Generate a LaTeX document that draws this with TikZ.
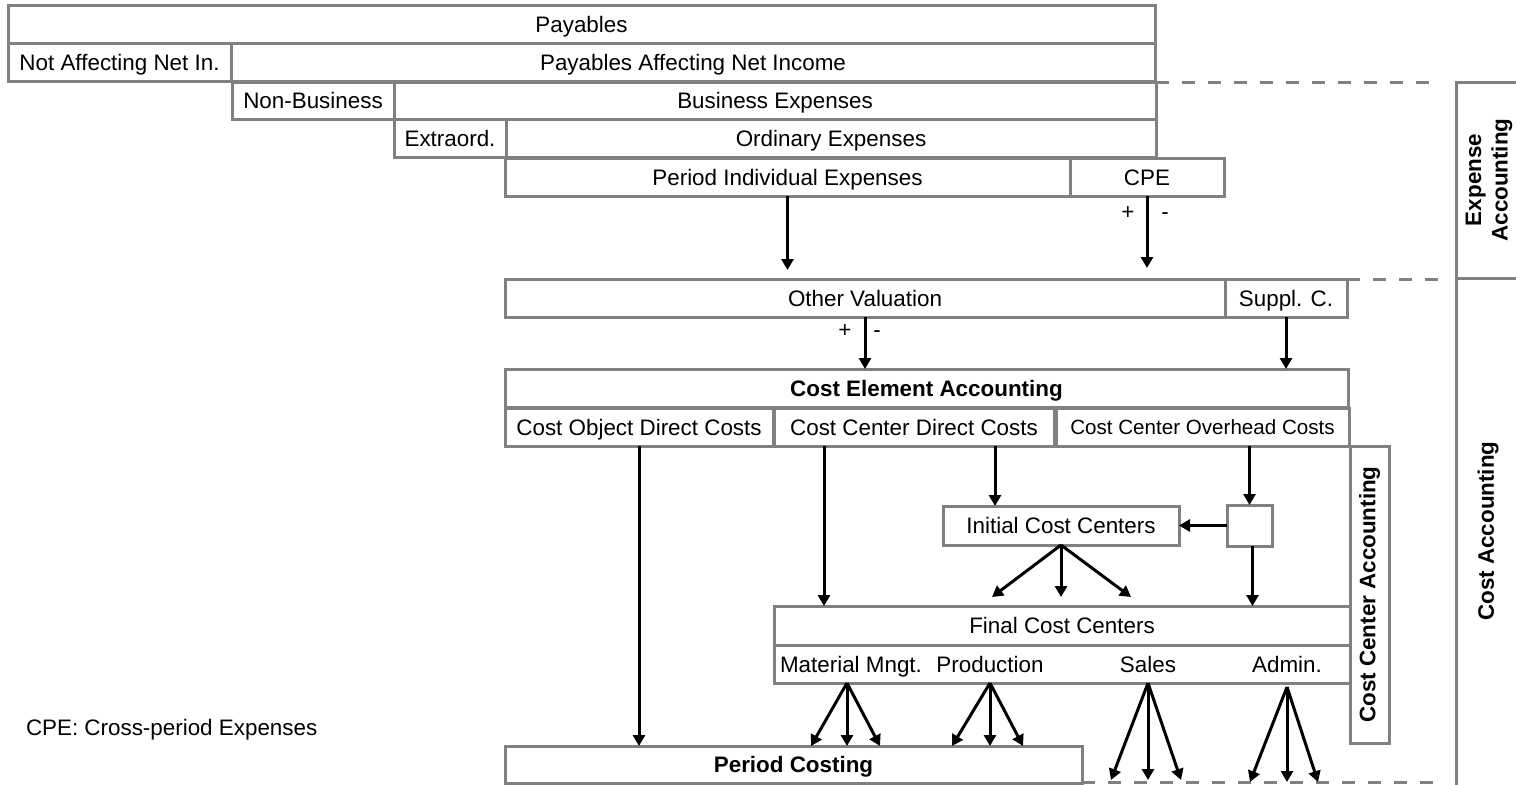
\documentclass[tikz,border=0pt]{standalone}
\usepackage{fontspec}
\setmainfont{Liberation Sans}
\usetikzlibrary{arrows.meta,calc}
\definecolor{boxgray}{HTML}{808080}
\tikzset{
  fnt/.style={font=\fontsize{11.2}{12.5}\selectfont, inner sep=0pt, outer sep=0pt},
  txt/.style={fnt, text height=8.2pt, text depth=0pt},
  box/.style={txt, draw=boxgray, line width=1.5pt, anchor=north west},
  bold/.style={font=\fontsize{11.2}{12.5}\selectfont\bfseries},
  vlabel/.style={fnt, bold, rotate=90, align=center},
  arr/.style={draw=black, line width=1.5pt, -{Triangle[length=5.5pt,width=6pt]}},
  dline/.style={draw=boxgray, line width=1.5pt, dash pattern=on 6.5pt off 6.5pt}
}
% box from (x1,y1) to (x2,y2), coordinates in pixels
\newcommand{\mkbox}[7][]{%
  \node[box,#1,minimum width={(#5-#3)*0.5pt},minimum height={(#6-#4)*0.5pt}] (#2) at (#3,#4) {#7};}
\begin{document}
\begin{tikzpicture}[x=0.5pt,y=-0.5pt]
\path[use as bounding box, clip] (0,0) rectangle (1516,784);

% expense hierarchy
\mkbox{pay}{8}{5}{1155}{43}{Payables}
\mkbox{nani}{8}{43}{231}{81}{Not Affecting Net In.}
\mkbox{pani}{231}{43}{1155}{81}{Payables Affecting Net Income}
\mkbox{nb}{232}{82}{394}{119}{Non-Business}
\mkbox{be}{394}{82}{1156}{119}{Business Expenses}
\mkbox{ex}{394}{119}{506}{157}{Extraord.}
\mkbox{oe}{506}{119}{1156}{157}{Ordinary Expenses}
\mkbox{pie}{505}{158}{1070}{196}{Period Individual Expenses}
\mkbox{cpe}{1070}{158}{1224}{196}{CPE}

% valuation
\mkbox{ov}{505}{279}{1225}{317}{Other Valuation}
\mkbox{sc}{1225}{279}{1347}{317}{Suppl. C.}

% cost element accounting
\mkbox[bold]{cea}{505}{369}{1348}{407}{Cost Element Accounting}
\mkbox{codc}{505}{408}{773}{446}{Cost Object Direct Costs}
\mkbox{ccdc}{774}{408}{1054}{446}{Cost Center Direct Costs}
\mkbox[font=\fontsize{10.3}{12}\selectfont, text height=7.6pt]{ccoc}{1056}{408}{1349}{446}{Cost Center Overhead Costs}

% cost center accounting
\mkbox{icc}{943}{506}{1179}{545}{Initial Cost Centers}
\mkbox{sq}{1227}{505}{1272}{546}{}
\mkbox{fcc}{774}{606}{1350}{645}{Final Cost Centers}
\mkbox{sub}{774}{645}{1350}{683}{}
\node[txt] (mm) at (851,664) {Material Mngt.};
\node[txt] (prod) at (990,664) {Production};
\node[txt] (sales) at (1148,664) {Sales};
\node[txt] (admin) at (1287,664) {Admin.};
\mkbox{cca}{1350}{446}{1389}{743}{}
\node[vlabel] (ccal) at (cca.center) {Cost Center Accounting};

% period costing
\mkbox[bold]{pc}{505}{746}{1082}{783}{Period Costing}

% accounting bands on the right
\mkbox{eaband}{1456}{82}{1530}{278}{}
\mkbox{caband}{1456}{278}{1530}{800}{}
\node[vlabel] (eal) at (1489,180) {Expense\\[0.8pt]Accounting};
\node[vlabel] (cal) at (1488,531) {Cost Accounting};

% dashed separators
\draw[dline] (be.north east) -- ($(be.north east -| eaband.west)+(-16,0)$);
\draw[dline] (sc.north east) -- ($(sc.north east -| caband.west)+(-16,0)$);
\coordinate (dsh) at ($(pc.south east)+(0,-1)$);
\draw[dline] (dsh) -- ($(dsh -| caband.west)+(-16,0)$);

% legend
\node[txt, anchor=west] (legend) at (26,727) {CPE: Cross-period Expenses};

% flows
\draw[arr, shorten >=4.5pt] (pie.south) -- (pie.south |- ov.north);
\draw[arr, shorten >=5.5pt] (cpe.south) -- (cpe.south |- ov.north);
\node[txt] (cpeplus) at (1128,211) {+};
\node[txt] (cpeminus) at (1165,211) {-};
\draw[arr] (ov.south) -- (ov.south |- cea.north);
\node[txt] (ovplus) at (845,329) {+};
\node[txt] (ovminus) at (877,329) {-};
\draw[arr] (sc.south) -- (sc.south |- cea.north);

\draw[arr] (codc.south) -- (codc.south |- pc.north);
\draw[arr] ($(ccdc.south)+(-90,0)$) -- ($(ccdc.south |- fcc.north)+(-90,0)$);
\draw[arr] ($(ccdc.south)+(81,0)$) -- ($(ccdc.south |- icc.north)+(81,0)$);
\draw[arr] (sq.north |- ccoc.south) -- (sq.north);
\draw[arr] (sq.west) -- (icc.east);
\draw[arr] ($(sq.south)+(3,0)$) -- ($(sq.south |- fcc.north)+(3,0)$);

\foreach \dx in {-69,0,70}
  \draw[arr] (icc.south) -- ($(icc.south |- fcc.north)+(\dx,-9)$);
\foreach \dx in {-36,0,33}
  \draw[arr] ($(mm.south |- sub.south)+(-4,0)$) -- ($(mm.south |- pc.north)+(\dx-4,0)$);
\foreach \dx in {-38,0,33}
  \draw[arr] (prod.south |- sub.south) -- ($(prod.south |- pc.north)+(\dx,0)$);
\foreach \dx in {-37,0,33}
  \draw[arr] (sales.south |- sub.south) -- ($(sales.south |- dsh)+(\dx,-2)$);
\foreach \dx in {-37,0,31}
  \draw[arr] ($(admin.south |- sub.south)+(0,4)$) -- ($(admin.south |- dsh)+(\dx,0)$);
\end{tikzpicture}
\end{document}
